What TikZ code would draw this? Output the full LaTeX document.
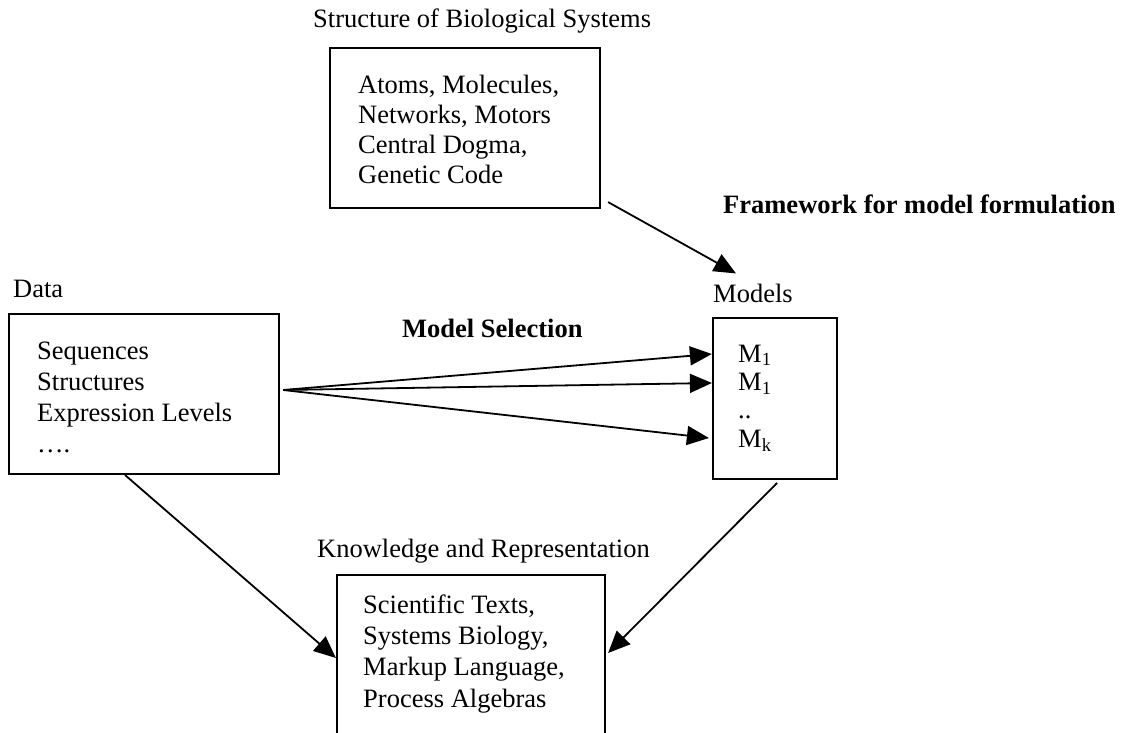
\documentclass[tikz,border=0pt]{standalone}
\usepackage{fontspec}
\setmainfont{Liberation Serif}
\usetikzlibrary{arrows.meta,calc}
\begin{document}
\begin{tikzpicture}[x=1pt,y=-1pt,
  box/.style={draw,line width=2.2pt,inner sep=0pt,rectangle},
  txt/.style={inner sep=0pt,anchor=base west,align=left,font=\fontsize{26.5}{31}\selectfont},
  btxt/.style={txt,font=\fontsize{26.5}{31}\selectfont\bfseries},
  conn/.style={line width=1.8pt,-{Triangle[length=22pt,width=19pt]}}]
\useasboundingbox (0,0) rectangle (1125,733);
% boxes
\node[box,minimum width=270pt,minimum height=160pt] (sbox) at (465,128) {};
\node[box,minimum width=270pt,minimum height=160pt] (dbox) at (144,394) {};
\node[box,minimum width=124pt,minimum height=161pt] (mbox) at (775,398.5) {};
\node[box,minimum width=268pt,minimum height=190pt] (kbox) at (471,670) {};
% labels
\node[txt] (slabel) at (313,28) {Structure of Biological Systems};
\node[txt] (dlabel) at (13,297) {Data};
\node[txt] (mlabel) at (713,302) {Models};
\node[txt] (klabel) at (317,557) {Knowledge and Representation};
\node[btxt] (flabel) at (723,213) {Framework for model formulation};
\node[btxt] (selabel) at (402,337) {Model Selection};
% contents (anchored at the baseline of the last line)
\node[txt,font=\fontsize{26.5}{30}\selectfont] (stext) at (358,183) {Atoms, Molecules,\\Networks, Motors\\Central Dogma,\\Genetic Code};
\node[txt,font=\fontsize{26.5}{30.7}\selectfont] (dtext) at (37,452) {Sequences\\Structures\\Expression Levels\\\dots.};
\node[txt,font=\fontsize{26.5}{28.3}\selectfont] (mtext) at (738,447) {M\textsubscript{1}\\M\textsubscript{1}\\..\\M\textsubscript{k}};
\node[txt,font=\fontsize{26.5}{31.3}\selectfont] (ktext) at (363,707) {Scientific Texts,\\Systems Biology,\\Markup Language,\\Process Algebras};
% connector end points
\coordinate (s1) at ($(sbox.south east)+(7,-7)$);
\coordinate (t1) at ($(mlabel.north west)+(23,-10)$);
\coordinate (d0) at ($(dbox.east)+(3,-4)$);
\coordinate (m1) at (mbox.west |- 0,354);
\coordinate (m2) at (mbox.west |- 0,383);
\coordinate (m3) at ($(mbox.west |- 0,438)+(-3,0)$);
\coordinate (d1) at (125,475);
\coordinate (k1) at (kbox.west |- 0,658);
\coordinate (mb) at (777,483);
\coordinate (k2) at ($(kbox.east |- 0,653)+(2,0)$);
% connectors
\draw[conn] (s1) -- (t1);
\draw[conn] (d0) -- (m1);
\draw[conn] (d0) -- (m2);
\draw[conn] (d0) -- (m3);
\draw[conn] (d1) -- (k1);
\draw[conn] (mb) -- (k2);
\end{tikzpicture}
\end{document}
